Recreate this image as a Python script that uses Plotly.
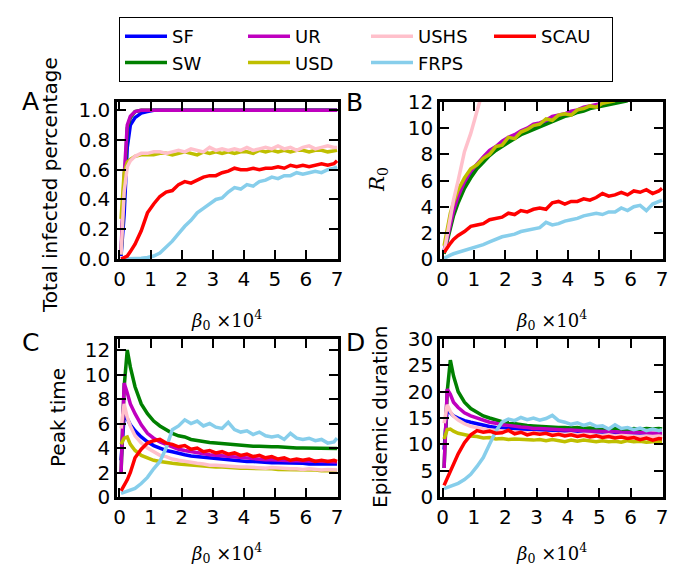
import plotly.graph_objects as go

# beta_0 (x 10^4) sample points
beta = [0.05, 0.15, 0.25, 0.35, 0.5, 0.7, 0.9, 1.1, 1.3, 1.5, 1.7, 1.9, 2.1, 2.3, 2.5, 2.7,
        2.9, 3.1, 3.3, 3.5, 3.7, 3.9, 4.1, 4.3, 4.5, 4.7, 4.9, 5.1, 5.3, 5.5, 5.7, 5.9,
        6.1, 6.3, 6.5, 6.7, 6.9, 7.0]

names = ["SF", "SW", "UR", "USD", "USHS", "FRPS", "SCAU"]
colors = ["#0000ff", "#008000", "#bf00bf", "#bfbf00", "#ffc0cb", "#87ceeb", "#ff0000"]
legend_rank = [1, 5, 2, 6, 3, 7, 4]

# panel A: total infected percentage
infected = {
    "SF": [0.02, 0.3, 0.75, 0.9, 0.95, 0.98, 0.99, 1.0, 1.0, 1.0, 1.0, 1.0, 1.0, 1.0, 1.0, 1.0,
           1.0, 1.0, 1.0, 1.0, 1.0, 1.0, 1.0, 1.0, 1.0, 1.0, 1.0, 1.0, 1.0, 1.0, 1.0, 1.0,
           1.0, 1.0, 1.0, 1.0, 1.0, 1.0],
    "SW": [0.03, 0.5, 0.88, 0.95, 0.99, 1.0, 1.0, 1.0, 1.0, 1.0, 1.0, 1.0, 1.0, 1.0, 1.0, 1.0,
           1.0, 1.0, 1.0, 1.0, 1.0, 1.0, 1.0, 1.0, 1.0, 1.0, 1.0, 1.0, 1.0, 1.0, 1.0, 1.0,
           1.0, 1.0, 1.0, 1.0, 1.0, 1.0],
    "UR": [0.05, 0.55, 0.9, 0.96, 0.99, 1.0, 1.0, 1.0, 1.0, 1.0, 1.0, 1.0, 1.0, 1.0, 1.0, 1.0,
           1.0, 1.0, 1.0, 1.0, 1.0, 1.0, 1.0, 1.0, 1.0, 1.0, 1.0, 1.0, 1.0, 1.0, 1.0, 1.0,
           1.0, 1.0, 1.0, 1.0, 1.0, 1.0],
    "USD": [0.27, 0.58, 0.65, 0.67, 0.69, 0.7, 0.7, 0.7, 0.71, 0.71, 0.7, 0.71, 0.72, 0.71,
            0.7, 0.72, 0.71, 0.72, 0.71, 0.72, 0.71, 0.72, 0.72, 0.71, 0.73, 0.72, 0.73, 0.72,
            0.73, 0.72, 0.73, 0.73, 0.72, 0.73, 0.73, 0.72, 0.73, 0.73],
    "USHS": [0.03, 0.45, 0.62, 0.66, 0.69, 0.71, 0.71, 0.72, 0.72, 0.71, 0.72, 0.73, 0.72,
             0.74, 0.73, 0.72, 0.75, 0.73, 0.74, 0.73, 0.74, 0.73, 0.75, 0.73, 0.74, 0.75,
             0.74, 0.76, 0.74, 0.75, 0.73, 0.75, 0.76, 0.74, 0.75, 0.76, 0.75, 0.75],
    "FRPS": [0.0, 0.0, 0.0, 0.0, 0.0, 0.005, 0.01, 0.02, 0.04, 0.08, 0.12, 0.17, 0.22, 0.26,
             0.31, 0.34, 0.37, 0.4, 0.41, 0.45, 0.48, 0.47, 0.5, 0.49, 0.52, 0.53, 0.55, 0.54,
             0.56, 0.56, 0.58, 0.57, 0.58, 0.59, 0.58, 0.6, 0.61, 0.62],
    "SCAU": [0.0, 0.01, 0.02, 0.05, 0.1, 0.19, 0.31, 0.37, 0.42, 0.45, 0.46, 0.5, 0.52, 0.51,
             0.53, 0.55, 0.56, 0.56, 0.58, 0.59, 0.61, 0.6, 0.6, 0.61, 0.6, 0.61, 0.61, 0.62,
             0.61, 0.63, 0.62, 0.63, 0.62, 0.63, 0.64, 0.63, 0.64, 0.66],
}

# panel B: R0 (None where the curve leaves the axes)
r0 = {
    "SF": [0.6, 1.8, 2.8, 3.6, 4.6, 5.7, 6.6, 7.2, 7.7, 8.1, 8.5, 8.8, 9.1, 9.4, 9.6, 9.9,
           10.1, 10.3, 10.5, 10.7, 10.9, 11.0, 11.2, 11.3, 11.5, 11.6, 11.7, 11.9, 12.0, 12.1,
           12.3, 12.4, None, None, None, None, None, None],
    "SW": [0.4, 1.4, 2.4, 3.3, 4.3, 5.4, 6.2, 6.9, 7.4, 7.9, 8.3, 8.6, 8.9, 9.2, 9.5, 9.7,
           9.9, 10.1, 10.3, 10.5, 10.7, 10.9, 11.0, 11.2, 11.3, 11.5, 11.6, 11.7, 11.8, 11.9,
           12.0, 12.1, None, None, None, None, None, None],
    "UR": [0.5, 1.6, 2.8, 3.7, 4.8, 5.9, 6.7, 7.3, 7.8, 8.3, 8.6, 9.0, 9.3, 9.5, 9.8, 10.0,
           10.3, 10.4, 10.6, 10.9, 11.0, 11.1, 11.3, 11.4, 11.6, 11.7, 11.8, 11.9, 12.1, 12.2,
           None, None, None, None, None, None, None, None],
    "USD": [1.0, 2.4, 3.5, 4.3, 5.3, 6.2, 6.9, 7.2, 7.7, 8.0, 8.6, 8.7, 9.3, 9.2, 9.7, 9.9,
            10.2, 10.3, 10.7, 10.6, 11.0, 11.1, 11.0, 11.4, 11.5, 11.7, 11.6, 11.9, 12.0, 12.1,
            None, None, None, None, None, None, None, None],
    "USHS": [0.5, 1.8, 3.2, 4.5, 6.0, 8.2, 9.6, 11.3, 13.0, None, None, None, None, None,
             None, None, None, None, None, None, None, None, None, None, None, None, None,
             None, None, None, None, None, None, None, None, None, None, None],
    "FRPS": [0.05, 0.2, 0.3, 0.4, 0.5, 0.7, 0.8, 0.95, 1.1, 1.3, 1.5, 1.7, 1.8, 1.9, 2.1, 2.2,
             2.3, 2.4, 2.8, 2.6, 2.7, 2.9, 3.0, 3.1, 3.3, 3.4, 3.5, 3.4, 3.6, 3.6, 3.9, 3.7,
             4.0, 4.1, 3.7, 4.2, 4.4, 4.5],
    "SCAU": [0.5, 0.9, 1.2, 1.5, 1.8, 2.1, 2.5, 2.6, 2.7, 3.0, 3.1, 3.2, 3.5, 3.4, 3.7, 3.6,
             3.8, 3.9, 3.8, 4.3, 4.4, 4.2, 4.4, 4.4, 4.6, 4.5, 4.7, 5.0, 4.8, 4.9, 5.1, 4.9,
             5.2, 5.1, 5.3, 5.0, 5.2, 5.4],
}

# panel C: peak time
peak = {
    "SF": [3.0, 6.6, 6.4, 5.9, 5.4, 4.9, 4.5, 4.2, 4.0, 3.8, 3.7, 3.55, 3.45, 3.35, 3.3, 3.2,
           3.15, 3.1, 3.05, 3.0, 2.95, 2.95, 2.9, 2.9, 2.85, 2.85, 2.8, 2.8, 2.8, 2.75, 2.75,
           2.75, 2.7, 2.7, 2.7, 2.7, 2.7, 2.7],
    "SW": [1.9, 9.0, 12.0, 10.6, 9.0, 7.6, 6.8, 6.2, 5.8, 5.5, 5.2, 5.0, 4.9, 4.7, 4.6, 4.5,
           4.45, 4.4, 4.35, 4.3, 4.25, 4.2, 4.2, 4.15, 4.15, 4.1, 4.1, 4.1, 4.05, 4.05, 4.0,
           4.0, 4.0, 4.0, 3.95, 3.95, 3.95, 3.95],
    "UR": [2.0, 9.3, 8.5, 7.6, 6.8, 5.9, 5.2, 4.8, 4.5, 4.3, 4.1, 3.9, 3.8, 3.7, 3.6, 3.5,
           3.45, 3.4, 3.35, 3.3, 3.25, 3.2, 3.15, 3.1, 3.1, 3.05, 3.05, 3.0, 3.0, 2.95, 2.95,
           2.95, 2.9, 2.9, 2.9, 2.9, 2.85, 2.85],
    "USD": [4.3, 4.8, 4.9, 4.3, 3.8, 3.4, 3.2, 3.0, 2.9, 2.8, 2.75, 2.7, 2.65, 2.6, 2.55, 2.5,
            2.5, 2.45, 2.45, 2.4, 2.4, 2.35, 2.35, 2.35, 2.3, 2.3, 2.3, 2.25, 2.25, 2.25, 2.2,
            2.2, 2.2, 2.2, 2.15, 2.15, 2.15, 2.15],
    "USHS": [5.6, 7.6, 6.5, 5.8, 5.0, 4.4, 4.0, 3.7, 3.4, 3.3, 3.1, 3.0, 2.9, 2.8, 2.75, 2.7,
             2.6, 2.6, 2.55, 2.5, 2.5, 2.45, 2.45, 2.4, 2.4, 2.35, 2.4, 2.35, 2.3, 2.3, 2.3,
             2.25, 2.3, 2.25, 2.2, 2.25, 2.2, 2.2],
    "FRPS": [0.3, 0.4, 0.5, 0.6, 0.7, 1.1, 1.6, 2.3, 2.9, 4.0, 5.5, 5.8, 6.3, 6.0, 6.2, 5.8,
             6.0, 5.7, 5.6, 6.1, 5.5, 5.3, 5.4, 5.1, 5.3, 5.0, 4.9, 5.0, 4.7, 5.2, 4.8, 4.7,
             4.8, 4.6, 4.7, 4.4, 4.5, 4.8],
    "SCAU": [0.5, 0.9, 1.4, 2.0, 3.2, 3.9, 4.4, 4.6, 4.7, 4.4, 4.3, 4.1, 4.2, 3.9, 4.0, 3.7,
             3.8, 3.6, 3.7, 3.5, 3.6, 3.4, 3.5, 3.3, 3.4, 3.2, 3.3, 3.1, 3.2, 3.0, 3.1, 3.0,
             3.1, 2.9, 3.0, 2.9, 3.0, 2.9],
}

# panel D: epidemic duration
duration = {
    "SF": [9.0, 16.8, 16.0, 15.4, 15.0, 14.5, 14.2, 13.9, 13.6, 13.4, 13.2, 13.1, 13.0, 12.9,
           12.8, 12.7, 12.7, 12.6, 12.6, 12.5, 12.5, 12.4, 12.4, 12.4, 12.3, 12.3, 12.3, 12.2,
           12.2, 12.2, 12.1, 12.1, 12.1, 12.0, 12.0, 12.0, 12.0, 12.0],
    "SW": [5.5, 20.0, 26.0, 23.0, 20.0, 18.0, 16.8, 16.0, 15.4, 15.0, 14.6, 14.3, 14.1, 13.9,
           13.8, 13.6, 13.5, 13.4, 13.4, 13.3, 13.2, 13.2, 13.1, 13.2, 13.0, 13.1, 12.9, 13.0,
           12.8, 13.0, 12.9, 12.7, 13.0, 12.8, 13.0, 12.9, 13.0, 12.9],
    "UR": [5.5, 20.5, 19.5, 18.0, 17.0, 16.0, 15.4, 15.0, 14.5, 14.2, 14.0, 13.7, 13.6, 13.4,
           13.3, 13.2, 13.0, 13.0, 12.9, 12.8, 12.8, 12.7, 12.7, 12.6, 12.6, 12.5, 12.5, 12.5,
           12.4, 12.4, 12.3, 12.3, 12.2, 12.3, 12.2, 12.1, 12.2, 12.1],
    "USD": [11.0, 12.8, 12.9, 12.5, 12.1, 11.8, 11.6, 11.5, 11.2, 11.3, 11.0, 11.1, 10.9, 11.0,
            10.9, 10.9, 10.8, 10.9, 10.7, 10.9, 10.7, 10.5, 10.8, 10.6, 10.8, 10.6, 10.5, 10.7,
            10.5, 10.6, 10.4, 10.7, 10.5, 10.6, 10.4, 10.5, 10.4, 10.5],
    "USHS": [14.0, 17.5, 16.2, 15.3, 14.6, 13.9, 13.4, 13.1, 12.9, 12.7, 12.6, 12.5, 12.4, 12.3,
             12.3, 12.2, 12.2, 12.1, 12.1, 12.0, 12.0, 11.9, 12.0, 11.8, 11.9, 11.8, 11.8, 11.7,
             11.8, 11.6, 11.7, 11.6, 11.6, 11.5, 11.6, 11.5, 11.6, 11.5],
    "FRPS": [1.6, 1.8, 2.0, 2.2, 2.6, 3.3, 4.3, 5.8, 7.5, 10.0, 12.5, 14.2, 14.8, 14.5, 15.1,
             14.7, 15.0, 14.6, 14.9, 15.5, 14.5, 14.2, 13.8, 14.1, 13.6, 14.0, 13.4, 13.5, 12.9,
             13.7, 13.0, 13.2, 12.8, 13.1, 12.6, 12.9, 12.6, 12.8],
    "SCAU": [2.2, 3.5, 5.0, 6.3, 8.2, 10.3, 11.8, 12.6, 12.3, 12.5, 12.1, 12.2, 12.7, 12.0, 12.3,
             11.8, 12.1, 11.9, 12.1, 11.7, 11.9, 11.6, 11.8, 11.5, 11.7, 11.4, 11.6, 11.3, 11.5,
             11.2, 11.4, 11.1, 11.3, 10.9, 11.2, 10.8, 11.1, 11.0],
}

# the page body adds an 8px offset, so the figure is 8px smaller than the window
OFF = 8
W, H = 677, 580
ML, MR = 100, 17   # plot area spans window px 108..668; also bounds the legend row width
FONT = "DejaVu Sans"
SERIF = "DejaVu Serif"


def px_x(p):
    return (p - OFF - ML) / (W - ML - MR)


def px_y(p):
    return 1 - (p - OFF) / H


# plot-area boxes (window pixels): left, right, top, bottom
boxes = {
    "": (117, 338, 102, 259),
    "2": (440, 663, 102, 259),
    "3": (117, 338, 339, 497),
    "4": (440, 663, 339, 497),
}
panels = [("", infected), ("2", r0), ("3", peak), ("4", duration)]

fig = go.Figure()
for suffix, data in panels:
    for i, name in enumerate(names):
        fig.add_trace(go.Scatter(
            x=beta, y=data[name], mode="lines", name=name,
            line=dict(color=colors[i], width=3.5),
            xaxis="x" + suffix, yaxis="y" + suffix,
            showlegend=(suffix == ""), legendrank=legend_rank[i],
            connectgaps=False, cliponaxis=True))

axis_common = dict(showline=True, linewidth=2.5, linecolor="black", mirror="allticks",
                   ticks="inside", ticklen=9, tickwidth=1.5, tickcolor="black",
                   showgrid=False, zeroline=False,
                   tickfont=dict(family=FONT, size=20, color="black"))

yranges = {"": [0, 1.055], "2": [0, 12], "3": [0, 12.9], "4": [0, 30]}
ydticks = {"": 0.2, "2": 2, "3": 2, "4": 5}
layout = {}
for suffix, (l, r, t, b) in boxes.items():
    layout["xaxis" + suffix] = dict(axis_common, domain=[px_x(l), px_x(r)], range=[-0.08, 7.03],
                                    dtick=1, tick0=0, anchor="y" + suffix)
    layout["yaxis" + suffix] = dict(axis_common, domain=[px_y(b), px_y(t)], range=yranges[suffix],
                                    dtick=ydticks[suffix], tick0=0, anchor="x" + suffix,
                                    tickformat=".1f" if suffix == "" else "d")
fig.update_layout(**layout)


def note(text, x, y, size, family=FONT, angle=0):
    return dict(text=text, x=px_x(x), y=px_y(y), xref="paper", yref="paper",
                xanchor="center", yanchor="middle", textangle=angle, showarrow=False,
                font=dict(family=family, size=size, color="black"))


annotations = []
# panel letters
for letter, (x, y) in zip("ABCD", [(30, 101), (354, 103), (30, 342), (355, 342)]):
    annotations.append(note(letter, x, y, 25))
# y-axis titles
annotations.append(note("Total infected percentage", 50, 185, 20, angle=-90))
annotations.append(note("Peak time", 58, 418, 20, angle=-90))
annotations.append(note("Epidemic duration", 380, 417, 20, angle=-90))
annotations.append(note("<i>R</i><sub>0</sub>", 378, 180, 20, family=SERIF, angle=-90))
# x-axis titles
for x, y in [(226, 320), (551, 320), (226, 553), (551, 553)]:
    annotations.append(note("<i>β</i><sub>0</sub> ×10<sup>4</sup>", x, y, 18, family=SERIF))

fig.update_layout(
    width=W, height=H,
    margin=dict(l=ML, r=MR, t=0, b=0, autoexpand=False),
    paper_bgcolor="white", plot_bgcolor="white",
    annotations=annotations,
    legend=dict(orientation="h", x=px_x(119), y=px_y(17), xanchor="left", yanchor="top",
                bordercolor="black", borderwidth=1, bgcolor="white",
                itemwidth=42, entrywidth=66, entrywidthmode="pixels", traceorder="normal",
                font=dict(family=FONT, size=18, color="black")),
)

fig.write_html("out.html")
